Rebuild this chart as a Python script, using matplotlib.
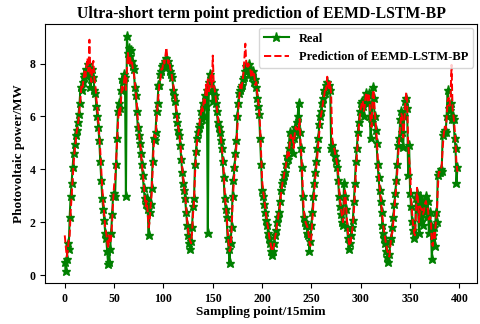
import numpy as np
import matplotlib
matplotlib.use('Agg')
import matplotlib.pyplot as plt

## values (15 min sampling points)
real = [
    0.5, 0.15, 0.6, 1.2, 1.0, 2.2, 3.0, 3.5, 4.1, 4.6,
    4.95, 5.3, 5.5, 5.8, 6.1, 6.5, 7.1, 7.0, 7.3, 7.5,
    7.6, 7.6, 7.8, 7.7, 8.0, 7.6, 7.1, 7.4, 7.8, 7.5,
    7.0, 6.9, 6.4, 6.0, 5.6, 5.1, 4.3, 3.6, 2.9, 2.5,
    2.1, 1.6, 1.4, 0.9, 0.4, 0.5, 1.0, 1.6, 2.3, 3.0,
    3.1, 3.0, 4.2, 5.2, 6.2, 6.5, 6.3, 7.0, 7.4, 7.3,
    7.6, 7.5, 3.0, 9.05, 8.4, 8.6, 8.3, 8.5, 8.1, 7.9,
    7.8, 7.1, 6.8, 6.2, 5.6, 5.3, 5.0, 4.6, 4.2, 3.8,
    3.3, 2.9, 2.7, 2.9, 2.5, 1.5, 2.4, 2.7, 3.3, 4.3,
    5.2, 5.1, 5.4, 6.2, 6.5, 7.2, 7.2, 7.6, 7.7, 7.9,
    8.0, 7.9, 8.1, 8.2, 8.0, 8.1, 7.9, 7.7, 7.6, 7.5,
    7.0, 6.8, 6.6, 6.1, 5.8, 5.5, 5.3, 4.9, 4.4, 3.9,
    3.5, 3.2, 2.9, 2.4, 1.9, 1.5, 1.2, 1.0, 1.3, 1.8,
    2.6, 2.9, 4.2, 4.7, 5.2, 5.4, 5.6, 5.7, 6.2, 5.9,
    6.5, 6.0, 6.8, 6.4, 7.0, 1.6, 7.3, 7.6, 7.3, 7.0,
    6.6, 7.0, 6.8, 6.5, 6.2, 5.8, 5.6, 5.4, 5.1, 4.8,
    4.3, 3.7, 2.9, 2.5, 2.2, 1.4, 1.0, 0.45, 1.2, 1.8,
    3.0, 3.6, 4.1, 4.6, 5.1, 6.0, 6.5, 6.9, 7.0, 7.1,
    7.2, 7.4, 7.5, 7.7, 7.9, 7.7, 7.8, 8.0, 7.7, 7.6,
    7.5, 7.7, 7.3, 7.4, 7.1, 6.7, 6.4, 6.1, 5.2, 4.2,
    3.2, 3.0, 2.7, 2.4, 2.1, 1.9, 1.6, 1.4, 1.2, 0.9,
    0.75, 0.9, 1.2, 1.5, 1.7, 2.0, 2.2, 2.4, 2.8, 3.2,
    3.5, 3.6, 3.8, 3.9, 4.2, 4.5, 4.4, 4.8, 5.4, 5.0,
    5.3, 4.6, 5.2, 5.6, 5.4, 5.8, 6.0, 6.5, 5.4, 4.8,
    4.1, 3.0, 2.2, 2.0, 1.9, 1.9, 1.6, 1.5, 0.9, 1.3,
    1.9, 2.4, 3.0, 3.5, 3.9, 4.3, 4.8, 5.2, 5.7, 6.0,
    6.2, 6.5, 6.7, 7.0, 6.9, 7.2, 7.3, 7.1, 7.2, 7.0,
    4.8, 4.9, 4.7, 4.7, 4.5, 4.3, 4.1, 3.6, 3.0, 2.6,
    2.3, 2.0, 1.9, 3.5, 3.0, 2.5, 1.8, 1.4, 1.0, 1.2,
    1.5, 1.8, 2.1, 2.8, 3.5, 4.3, 4.8, 5.4, 5.8, 6.2,
    6.5, 6.6, 6.4, 6.0, 6.6, 6.9, 6.7, 6.5, 6.9, 6.0,
    5.2, 5.8, 7.1, 6.7, 6.0, 5.5, 5.0, 4.2, 3.7, 3.2,
    2.8, 2.4, 1.9, 1.6, 1.4, 1.2, 0.9, 0.7, 0.5, 0.8,
    1.3, 1.4, 1.8, 2.2, 2.7, 3.1, 3.6, 4.2, 4.9, 5.2,
    5.9, 6.2, 5.4, 4.85, 6.0, 6.6, 6.7, 6.3, 3.8, 4.9,
    3.1, 2.6, 2.05, 1.7, 1.4, 1.6, 2.9, 3.1, 2.5, 1.6,
    3.0, 2.0, 2.8, 1.9, 2.6, 2.4, 3.0, 2.2, 2.8, 1.6,
    2.4, 1.9, 0.6, 1.5, 1.8, 1.1, 2.4, 2.0, 3.8, 3.9,
    3.9, 4.0, 3.95, 5.3, 5.4, 5.5, 5.4, 6.0, 7.0, 6.3,
    6.25, 6.5, 5.9, 6.0, 5.9, 5.2, 4.8, 3.5, 4.1,
]

pred = [
    1.5, 1.1, 0.7, 0.9, 1.3, 1.5, 2.4, 3.0, 3.6, 4.2,
    4.7, 5.0, 5.4, 5.6, 5.9, 6.3, 6.7, 7.2, 7.1, 7.4,
    7.7, 7.5, 7.9, 8.2, 7.7, 8.9, 7.6, 7.3, 7.9, 8.1,
    7.4, 7.2, 6.7, 6.3, 5.8, 5.3, 4.7, 4.0, 3.3, 2.8,
    2.3, 1.8, 1.6, 1.3, 1.0, 1.5, 1.2, 1.4, 2.0, 2.8,
    3.4, 3.6, 4.3, 5.0, 5.8, 6.3, 6.0, 6.6, 7.2, 7.0,
    7.3, 7.6, 7.0, 7.8, 8.4, 8.0, 8.3, 8.0, 8.1, 7.8,
    7.6, 7.3, 6.9, 6.5, 5.9, 5.5, 5.1, 4.8, 4.3, 3.9,
    3.5, 3.0, 2.6, 2.8, 2.4, 1.8, 2.0, 2.6, 3.0, 3.9,
    4.8, 5.3, 5.2, 5.8, 6.4, 6.8, 7.3, 7.4, 7.8, 7.8,
    8.1, 8.0, 8.3, 8.6, 8.2, 8.0, 8.1, 7.8, 7.7, 7.4,
    7.2, 6.9, 6.7, 6.3, 5.9, 5.6, 5.4, 5.0, 4.6, 4.1,
    3.7, 3.3, 3.0, 2.6, 2.1, 1.7, 1.4, 1.3, 1.2, 1.6,
    2.3, 2.8, 3.8, 4.5, 5.0, 5.3, 5.5, 5.9, 6.1, 6.4,
    6.2, 6.7, 6.5, 7.2, 6.8, 7.4, 6.9, 7.2, 7.6, 7.1,
    8.3, 7.2, 7.0, 6.7, 6.4, 6.0, 5.7, 5.5, 5.2, 4.9,
    4.5, 4.0, 3.2, 2.7, 2.3, 1.7, 1.2, 0.9, 1.0, 1.6,
    2.6, 3.3, 3.9, 4.4, 4.9, 5.6, 6.3, 6.8, 7.2, 7.0,
    7.3, 7.6, 8.2, 8.75, 8.0, 7.8, 8.0, 7.9, 7.8, 7.5,
    7.7, 7.5, 7.6, 7.2, 7.3, 6.9, 6.6, 6.2, 5.6, 4.6,
    3.6, 3.2, 2.9, 2.6, 2.3, 2.0, 1.8, 1.5, 1.3, 1.1,
    0.9, 1.0, 1.1, 1.4, 1.6, 1.9, 2.1, 2.4, 2.6, 3.0,
    3.3, 3.6, 3.7, 4.0, 4.1, 4.4, 4.7, 4.5, 5.0, 5.3,
    5.1, 5.2, 4.8, 5.3, 5.6, 5.5, 5.6, 5.5, 5.9, 5.0,
    4.4, 3.5, 2.6, 2.2, 2.0, 1.9, 1.8, 1.6, 1.2, 1.1,
    1.5, 2.1, 2.7, 3.2, 3.7, 4.1, 4.5, 5.0, 5.4, 5.9,
    6.1, 6.3, 6.6, 6.8, 7.1, 7.0, 7.5, 7.2, 7.0, 7.3,
    6.8, 5.2, 4.9, 4.8, 4.6, 4.4, 4.2, 3.9, 3.3, 2.8,
    2.5, 2.2, 2.0, 2.6, 3.2, 2.7, 2.1, 1.6, 1.2, 1.1,
    1.3, 1.6, 1.9, 2.4, 3.1, 3.9, 4.5, 5.1, 5.6, 6.0,
    6.3, 6.5, 6.6, 6.2, 6.4, 6.8, 6.9, 6.6, 6.8, 6.5,
    5.8, 5.6, 6.8, 7.0, 6.3, 5.8, 5.3, 4.6, 3.9, 3.4,
    3.0, 2.6, 2.2, 1.8, 1.6, 1.3, 1.1, 0.9, 0.8, 0.7,
    1.1, 1.5, 1.6, 2.0, 2.5, 2.9, 3.4, 3.9, 4.6, 5.1,
    5.6, 6.1, 6.0, 5.2, 5.7, 6.4, 6.9, 6.6, 5.0, 4.4,
    4.0, 2.9, 2.4, 1.9, 1.6, 1.5, 2.4, 3.3, 2.8, 2.0,
    2.6, 2.5, 2.5, 2.3, 2.4, 2.7, 2.8, 2.6, 2.5, 2.1,
    2.2, 2.1, 1.2, 1.1, 1.6, 1.4, 2.0, 2.3, 3.2, 3.9,
    3.9, 4.0, 4.1, 4.8, 5.3, 5.6, 5.5, 5.9, 6.6, 6.7,
    6.4, 6.8, 7.95, 6.3, 6.0, 5.6, 5.0, 4.2, 3.9,
]

x_ticks = [0, 50, 100, 150, 200, 250, 300, 350, 400]
y_ticks = [0, 2, 4, 6, 8]

plt.rcParams['font.family'] = ['Liberation Serif', 'DejaVu Serif']
plt.rcParams['font.weight'] = 'bold'

fig = plt.figure(figsize=(4.8, 3.24), dpi=100)
ax = fig.add_axes([0.094, 0.127, 0.9, 0.799])

t = np.arange(len(real))
ax.plot(t, real, color='green', marker='*', markersize=6.5, linewidth=1.5, label='Real')
ax.plot(t, pred, color='red', linestyle='--', linewidth=1.4, label='Prediction of EEMD-LSTM-BP')

ax.set_xticks(x_ticks)
ax.set_yticks(y_ticks)
ax.tick_params(labelsize=8.5)
for lab in ax.get_xticklabels() + ax.get_yticklabels():
    lab.set_fontweight('bold')

ax.set_title('Ultra-short term point prediction of EEMD-LSTM-BP', fontsize=11.3, fontweight='bold', pad=4)
ax.set_xlabel('Sampling point/15mim', fontsize=9.5, fontweight='bold', labelpad=1)
ax.set_ylabel('Photovoltaic power/MW', fontsize=9.5, fontweight='bold', labelpad=3)

leg = ax.legend(loc='upper right', prop={'weight': 'bold', 'size': 9}, fancybox=True,
                framealpha=0.8, borderaxespad=0.3)

fig.savefig('out.png', dpi=100)
